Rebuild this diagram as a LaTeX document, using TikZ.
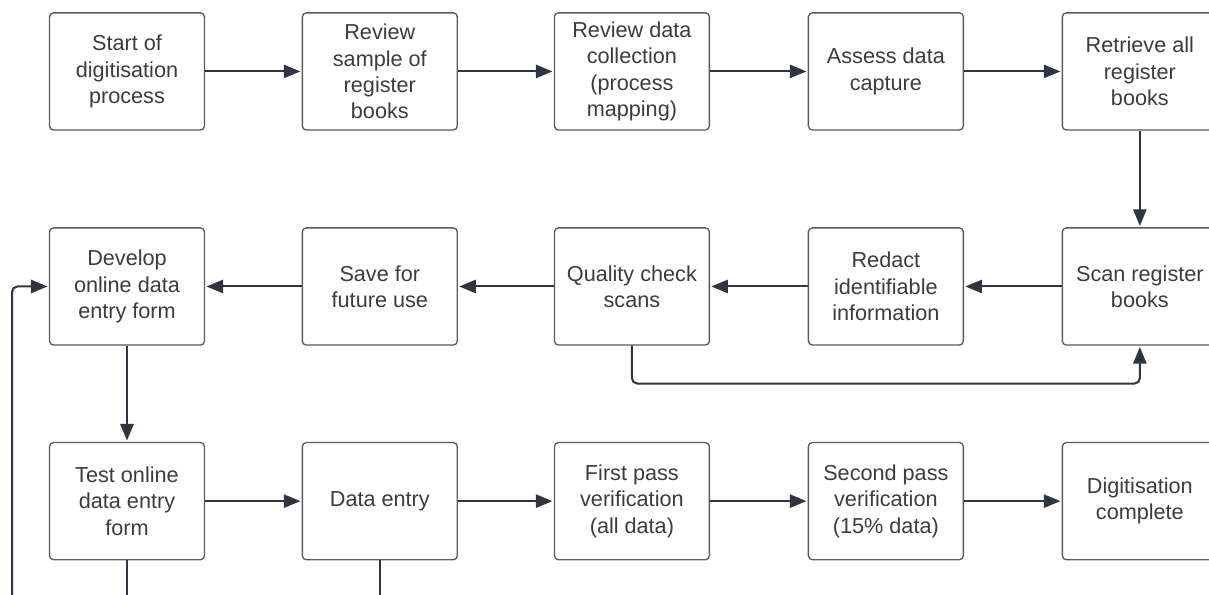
\documentclass[tikz,border=0pt]{standalone}
\usepackage{fontspec}
\setmainfont{Liberation Sans}
\usepackage{tikz}
\usetikzlibrary{arrows.meta}
\definecolor{linegrey}{HTML}{2E3440}
\definecolor{boxgrey}{HTML}{5A5A5A}
\definecolor{textgrey}{HTML}{3C3C3C}

\begin{document}
\begin{tikzpicture}[
    box/.style={draw=boxgrey, line width=1pt, rounded corners=3pt, fill=white,
        minimum width=4.1cm, minimum height=3.1cm, align=center, text=textgrey,
        font=\fontsize{16.3}{19.8}\selectfont},
    flow/.style={draw=linegrey, line width=1.5pt, rounded corners=4pt,
        -{Triangle[length=12.5pt, width=10pt]}, shorten >=1pt},
    link/.style={draw=linegrey, line width=1.5pt, rounded corners=4pt}
    ]
    % Page frame
    \path[use as bounding box, clip] (0, 0) rectangle (31.99, -15.72);

    % Top row
    \node[box] (start)    at (3.36, -1.89)  {Start of\\digitisation\\process};
    \node[box] (sample)   at (10.05, -1.89) {Review\\sample of\\register\\books};
    \node[box] (collect)  at (16.72, -1.89) {Review data\\collection\\(process\\mapping)};
    \node[box] (assess)   at (23.44, -1.89) {Assess data\\capture};
    \node[box] (retrieve) at (30.16, -1.89) {Retrieve all\\register\\books};

    % Middle row
    \node[box] (develop)  at (3.36, -7.58)  {Develop\\online data\\entry form};
    \node[box] (save)     at (10.05, -7.58) {Save for\\future use};
    \node[box] (quality)  at (16.72, -7.58) {Quality check\\scans};
    \node[box] (redact)   at (23.44, -7.58) {Redact\\identifiable\\information};
    \node[box] (scan)     at (30.16, -7.58) {Scan register\\books};

    % Bottom row
    \node[box] (test)     at (3.36, -13.26)  {Test online\\data entry\\form};
    \node[box] (entry)    at (10.05, -13.26) {Data entry};
    \node[box] (first)    at (16.72, -13.26) {First pass\\verification\\(all data)};
    \node[box] (second)   at (23.44, -13.26) {Second pass\\verification\\(15\% data)};
    \node[box] (complete) at (30.16, -13.26) {Digitisation\\complete};

    % Loose ends below the page
    \coordinate (loopin) at (0.32, -16.2);
    \coordinate (edge) at (0, -16.2);

    % Connectors
    \draw[flow] (start) -- (sample);
    \draw[flow] (sample) -- (collect);
    \draw[flow] (collect) -- (assess);
    \draw[flow] (assess) -- (retrieve);
    \draw[flow] (retrieve) -- (scan);
    \draw[flow] (scan) -- (redact);
    \draw[flow] (redact) -- (quality);
    \draw[flow] (quality) -- (save);
    \draw[flow] (save) -- (develop);
    \draw[flow] (develop) -- (test);
    \draw[flow] (test) -- (entry);
    \draw[flow] (entry) -- (first);
    \draw[flow] (first) -- (second);
    \draw[flow] (second) -- (complete);
    \draw[flow] (quality.south) -- ++(0, -1.0) -| (scan.south);
    \draw[flow] (loopin) |- (develop.west);
    \draw[link] (test.south) -- (test.south |- edge);
    \draw[link] (entry.south) -- (entry.south |- edge);
\end{tikzpicture}
\end{document}
